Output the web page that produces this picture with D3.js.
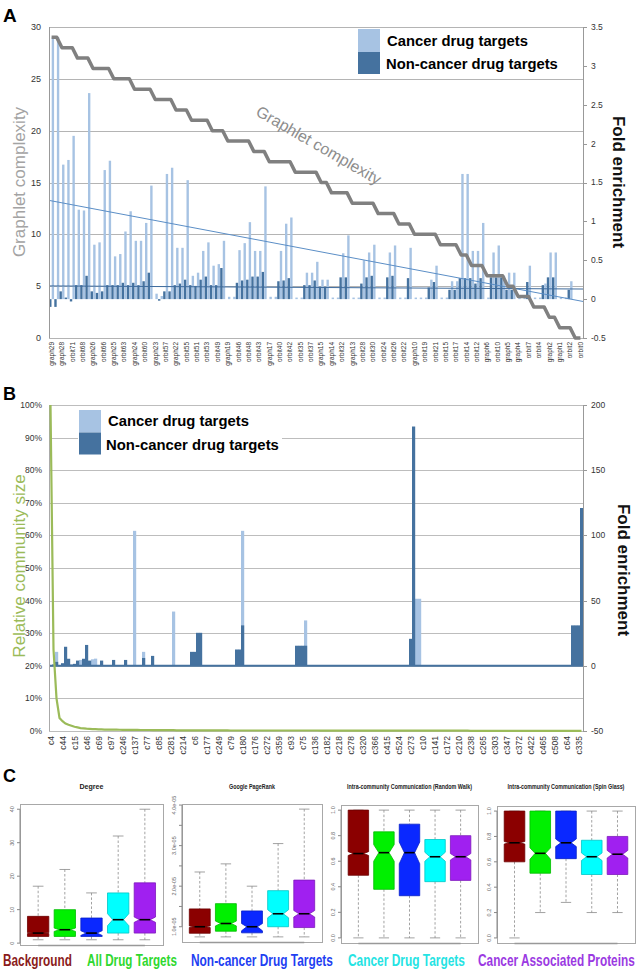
<!DOCTYPE html>
<html>
<head>
<meta charset="utf-8">
<script src="https://cdn.jsdelivr.net/npm/d3@7"></script>
<style>
  body { margin:0; background:#fff; }
  svg { display:block; font-family:"Liberation Sans", Arial, Helvetica, sans-serif; }
</style>
</head>
<body>
<svg id="fig" width="643" height="977"></svg>
<script>
// ---------- panel A: graphlets / orbits ----------
var aNames = ["graph29","orbit72","graph28","orbit70","orbit71","graph27","orbit68","orbit69","graph26","orbit65",
  "orbit66","orbit67","graph25","orbit62","orbit63","orbit64","graph24","orbit59","orbit60","orbit61",
  "graph23","orbit56","orbit57","orbit58","graph22","orbit54","orbit55","graph21","orbit51","orbit52",
  "orbit53","graph20","orbit49","orbit50","graph19","orbit45","orbit46","orbit47","orbit48","graph18",
  "orbit43","orbit44","graph17","orbit39","orbit40","orbit41","orbit42","graph16","orbit35","orbit36",
  "orbit37","orbit38","graph15","orbit34","graph14","orbit31","orbit32","orbit33","graph13","orbit27",
  "orbit28","orbit29","orbit30","graph12","orbit24","orbit25","orbit26","graph11","orbit22","orbit23",
  "graph10","orbit18","orbit19","orbit20","orbit21","graph9","orbit15","orbit16","orbit17","graph8",
  "orbit14","graph7","orbit12","orbit13","graph6","orbit9","orbit10","orbit11","graph5","orbit8",
  "graph4","orbit6","orbit7","graph3","orbit4","orbit5","graph2","orbit3","graph1","orbit1",
  "orbit2","graph0","orbit0"];
var aComplexity = [29,29,28,28,28,27,27,27,26,26, 26,26,25,25,25,25,24,24,24,24,
  23,23,23,23,22,22,22,21,21,21, 21,20,20,20,19,19,19,19,19,18,
  18,18,17,17,17,17,17,16,16,16, 16,16,15,15,14,14,14,14,13,13,
  13,13,13,12,12,12,12,11,11,11, 10,10,10,10,10,9,9,9,9,8,
  8,7,7,7,6,6,6,6,5,5, 4,4,4,3,3,3,2,2,1,1, 1,0,0];
var aCancer = [3.37,3.37,1.73,1.79,2.1,1.15,1.14,2.65,0.7,0.73,
  1.66,1.78,0.55,0.58,0.87,1.13,0.75,0.75,0.98,1.46,
  0.07,0.04,1.61,1.69,0.66,0.66,1.53,0.3,0.34,0.62,
  0.73,0.43,0.45,0.75,0.03,0.03,0.63,0.72,0.99,0.62,
  0.62,1.45,0.03,0.03,0.62,0.97,1.05,0.02,0.02,0.34,
  0.34,0.48,0.25,0.25,0.02,0.02,0.59,0.82,0.02,0.02,
  0.5,0.6,0.7,0.02,0.02,0.6,0.69,0.02,0.02,0.66,
  0.02,0.02,0.02,0.25,0.43,0.02,0.02,0.23,0.23,1.61,
  1.61,0.62,0.62,0.98,0.02,0.6,0.69,0.3,0.34,0.34,
  0.02,0.02,0.43,0.02,0.02,0.2,0.6,0.6,0.02,0.02,
  0.23,0,0];
var aNonCancer = [-0.1,-0.1,0.1,0.02,-0.03,0.18,0.18,0.3,0.1,0.08,
  0.1,0.18,0.18,0.18,0.21,0.18,0.21,0.18,0.23,0.34,
  0,-0.02,0.1,0.1,0.18,0.2,0.25,0.18,0.17,0.25,
  0.29,0.18,0.18,0.4,0,0,0.21,0.24,0.25,0.29,
  0.29,0.35,0,0,0.23,0.24,0.27,0,0,0.18,
  0.18,0.24,0.16,0.16,0,0,0.28,0.28,0,0,
  0.2,0.28,0.3,0,0,0.28,0.3,0,0,0.27,
  0,0,0,0.15,0.22,0,0,0.12,0.12,0.27,
  0.27,0.27,0.2,0.27,0,0.28,0.28,0.28,0.12,0.12,
  0,0,0.22,0,0,0.18,0.28,0.28,0,0,
  0.12,0,0];
var aCancerTrend = [1.27, -0.03];     // linear trend, first and last category
var aNonCancerTrend = [0.17, 0.13];
var aLeftTicks = [0, 5, 10, 15, 20, 25, 30];
var aRightTicks = [-0.5, 0, 0.5, 1, 1.5, 2, 2.5, 3, 3.5];

// ---------- panel B: communities ----------
var bLabels = ["c4","c44","c15","c46","c69","c97","c246","c137","c77","c85","c281","c214","c6","c177","c249",
  "c79","c180","c176","c272","c359","c93","c75","c136","c182","c218","c278","c320","c366","c415","c524",
  "c273","c10","c141","c172","c210","c238","c265","c303","c347","c372","c422","c465","c508","c64","c335"];
var bCount = 178;          // communities on the axis, every 4th one labelled
var bSize = [100,25,10,4,3,2.3,1.9,1.6,1.3,1.1,0.9,0.8,0.7,0.65,0.6,0.55,0.5,0.5,0.45,0.45,
  0.42,0.4,0.4,0.38,0.36,0.35,0.35,0.34,0.33,0.32,0.31,0.3,0.3,0.3,0.29,0.28,0.28,0.27,0.26,0.25,
  0.25,0.25,0.2,0.2,0.2,0.2,0.2,0.2,0.2,0.2,0.2,0.2,0.2,0.2,0.2,0.2,0.2,0.2,0.2,0.2,
  0.15,0.15,0.15,0.15,0.15,0.15,0.15,0.15,0.15,0.15,0.15,0.15,0.15,0.15,0.15,0.15,0.15,0.15,0.15,0.15,
  0.15,0.15,0.15,0.15,0.15,0.15,0.15,0.15,0.15,0.15,0.1,0.1,0.1,0.1,0.1,0.1,0.1,0.1,0.1,0.1,
  0.1,0.1,0.1,0.1,0.1,0.1,0.1,0.1,0.1,0.1,0.1,0.1,0.1,0.1,0.1,0.1,0.1,0.1,0.1,0.1,
  0.1,0.1,0.1,0.1,0.1,0.1,0.1,0.1,0.1,0.1,0.1,0.1,0.1,0.1,0.1,0.1,0.1,0.1,0.1,0.1,
  0.05,0.05,0.05,0.05,0.05,0.05,0.05,0.05,0.05,0.05,0.05,0.05,0.05,0.05,0.05,0.05,0.05,0.05,0.05,0.05,
  0.05,0.05,0.05,0.05,0.05,0.05,0.05,0.05,0.05,0.05,0.05,0.05,0.05,0.05,0.05,0.05,0.05,0.05];
// [community position, fold enrichment]; all others are 0
var bCancer = [[2,10.7],[10,4.5],[14,5],[15,5.5],[28,103.5],[31,10.7],[41,41.6],[64,103.5],
  [85,34.8],[122,51.4],[123,51.4]];
var bNonCancer = [[1,1],[2,3],[4,2],[5,14.6],[6,5.4],[7,1],[8,1.5],[9,4],[11,5.4],[12,16],[13,4],
  [17,4],[21,4.5],[25,4.5],[31,6],[34,7.6],[47,10.7],[48,10.7],[49,25.3],[50,25.3],[62,12.5],
  [63,12.5],[64,31],[82,15.4],[83,15.4],[84,15.4],[85,15.4],[120,20.7],[121,183.5],
  [174,31],[175,31],[176,31],[177,121]];
var bLeftTicks = [0, 10, 20, 30, 40, 50, 60, 70, 80, 90, 100];
var bRightTicks = [-50, 0, 50, 100, 150, 200];

// ---------- panel C: boxplots, rows are [low whisker, Q1, median, Q3, high whisker, notch low, notch high] ----------
var cGroups = ["Background", "All Drug Targets", "Non-cancer Drug Targets", "Cancer Drug Targets", "Cancer Associated Proteins"];
var degreeBox = [[1,2,3,8,17,2.85,3.15],[1,2,4,10,22,3.5,4.5],[1,2,3,7.5,15,2.3,3.7],
  [1,3,7,15,32,5.2,8.8],[1,3,7,18,40,6.2,7.8]];
var pagerankBox = [[0.75e-5,0.84e-5,1.0e-5,1.44e-5,2.35e-5,0.98e-5,1.02e-5],
  [0.75e-5,0.89e-5,1.08e-5,1.57e-5,2.55e-5,1.02e-5,1.14e-5],
  [0.75e-5,0.85e-5,1.0e-5,1.39e-5,2.0e-5,0.9e-5,1.08e-5],
  [0.75e-5,1.0e-5,1.32e-5,1.89e-5,3.05e-5,1.22e-5,1.42e-5],
  [0.75e-5,0.98e-5,1.32e-5,2.15e-5,3.9e-5,1.24e-5,1.4e-5]];
var randomWalkBox = [[0,0.49,0.66,1,1,0.645,0.675],[0,0.38,0.667,0.83,1,0.6,0.73],
  [0,0.33,0.667,0.89,1,0.58,0.75],[0,0.44,0.635,0.77,1,0.6,0.67],[0,0.45,0.635,0.8,1,0.61,0.66]];
var spinGlassBox = [[0,0.6,0.75,1,1,0.74,0.76],[0.2,0.51,0.667,1,1,0.62,0.71],
  [0.28,0.625,0.75,1,1,0.72,0.78],[0.2,0.5,0.64,0.77,1,0.61,0.67],[0.2,0.5,0.66,0.8,1,0.63,0.69]];

var LIGHT = "#a7c3e3", DARK = "#45729f";
var boxFill = ["#8b0000", "#00f000", "#0a28ff", "#00ffff", "#a020f0"];
var groupText = ["#8b1c1c", "#2fd82f", "#1f3ff2", "#25e3e3", "#9b3ae2"];

var svg = d3.select("#fig");
function crisp(v) { return Math.round(v) + 0.5; }
// squeeze a text horizontally to a given width (narrow typefaces are not installed)
function fitText(t, x, y, width) {
  var n = t.node().getComputedTextLength();
  t.attr("transform", "translate(" + x + "," + y + ") scale(" + (width / n) + ",1)");
  return t;
}

// =============== A ===============
var gA = svg.append("g");
var xA = d3.scaleBand().domain(d3.range(aNames.length)).range([49, 583]);
var sA = d3.scaleBand().domain(["non", "can"]).range([0, xA.bandwidth()]).paddingInner(0.08).paddingOuter(0.04);
var yAL = d3.scaleLinear().domain([0, 30]).range([338, 27]);
var yAR = d3.scaleLinear().domain([-0.5, 3.5]).range([338, 27]);

gA.selectAll(".grid").data(aLeftTicks).join("line")
  .attr("x1", 49).attr("x2", 583)
  .attr("y1", function(d) { return crisp(yAL(d)); }).attr("y2", function(d) { return crisp(yAL(d)); })
  .attr("stroke", "#b4b4b4");

function barsA(vals, key, color) {
  gA.append("g").selectAll("rect").data(vals).join("rect")
    .attr("x", function(d, i) { return xA(i) + sA(key); })
    .attr("width", sA.bandwidth())
    .attr("y", function(d) { return yAR(Math.max(d, 0)); })
    .attr("height", function(d) { return Math.abs(yAR(d) - yAR(0)); })
    .attr("fill", color);
}
barsA(aCancer, "can", LIGHT);
barsA(aNonCancer, "non", DARK);

// trend lines
gA.append("line").attr("x1", 49).attr("x2", 583)
  .attr("y1", yAR(aCancerTrend[0])).attr("y2", yAR(aCancerTrend[1]))
  .attr("stroke", "#5b8ec6").attr("stroke-width", 1);
gA.append("line").attr("x1", 49).attr("x2", 583)
  .attr("y1", yAR(aNonCancerTrend[0])).attr("y2", yAR(aNonCancerTrend[1]))
  .attr("stroke", "#3f6c9e").attr("stroke-width", 1);

// graphlet complexity
gA.append("path").datum(aComplexity)
  .attr("d", d3.line().x(function(d, i) { return xA(i) + xA.bandwidth() / 2; }).y(function(d) { return yAL(d); }))
  .attr("fill", "none").attr("stroke", "#808080").attr("stroke-width", 3.5).attr("stroke-linejoin", "round");
gA.append("text").attr("transform", "translate(316,150) rotate(30)")
  .attr("text-anchor", "middle").attr("font-size", 16).attr("fill", "#8d8d8d")
  .text("Graphlet complexity");

// axes
gA.append("line").attr("x1", crisp(49)).attr("x2", crisp(49)).attr("y1", 27).attr("y2", 338).attr("stroke", "#999");
gA.append("line").attr("x1", crisp(583)).attr("x2", crisp(583)).attr("y1", 27).attr("y2", 338).attr("stroke", "#999");
gA.selectAll(".lt").data(aLeftTicks).join("text")
  .attr("x", 41).attr("y", function(d) { return yAL(d); }).attr("dy", "0.35em")
  .attr("text-anchor", "end").attr("font-size", 9).attr("fill", "#333").text(function(d) { return d; });
gA.selectAll(".rtk").data(aRightTicks).join("line")
  .attr("x1", 583).attr("x2", 587)
  .attr("y1", function(d) { return crisp(yAR(d)); }).attr("y2", function(d) { return crisp(yAR(d)); })
  .attr("stroke", "#999");
gA.selectAll(".rt").data(aRightTicks).join("text")
  .attr("x", 591).attr("y", function(d) { return yAR(d); }).attr("dy", "0.35em")
  .attr("font-size", 8.5).attr("fill", "#333").text(function(d) { return d; });
gA.selectAll(".xl").data(d3.range(0, aNames.length, 2)).join("text")
  .attr("transform", function(i) { return "translate(" + (xA(i) + xA.bandwidth() / 2 + 2.3) + ",342) rotate(-90)"; })
  .attr("text-anchor", "end").attr("font-size", 6.5).attr("fill", "#333")
  .text(function(i) { return aNames[i]; });

gA.append("text").attr("transform", "translate(25,182) rotate(-90)").attr("text-anchor", "middle")
  .attr("font-size", 17).attr("fill", "#a3a3a3").text("Graphlet complexity");
gA.append("text").attr("transform", "translate(613,182) rotate(90)").attr("text-anchor", "middle")
  .attr("font-size", 17).attr("font-weight", "bold").attr("fill", "#111").text("Fold enrichment");

// legend A
gA.append("rect").attr("x", 358).attr("y", 29).attr("width", 22).attr("height", 23).attr("fill", LIGHT);
gA.append("rect").attr("x", 358).attr("y", 52).attr("width", 22).attr("height", 22).attr("fill", DARK);
fitText(gA.append("text").attr("font-size", 15).attr("font-weight", "bold").text("Cancer drug targets"), 387, 46, 141);
fitText(gA.append("text").attr("font-size", 15).attr("font-weight", "bold").text("Non-cancer drug targets"), 386, 69, 172);
svg.append("text").attr("x", 3).attr("y", 22).attr("font-size", 19).attr("font-weight", "bold").text("A");

// =============== B ===============
var gB = svg.append("g");
var xB = d3.scaleBand().domain(d3.range(bCount)).range([49, 583]);
var yBL = d3.scaleLinear().domain([0, 100]).range([731, 405]);
var yBR = d3.scaleLinear().domain([-50, 200]).range([731, 405]);

gB.selectAll(".grid").data(bLeftTicks).join("line")
  .attr("x1", 49).attr("x2", 583)
  .attr("y1", function(d) { return crisp(yBL(d)); }).attr("y2", function(d) { return crisp(yBL(d)); })
  .attr("stroke", "#bdbdbd");

// both series overlap fully in each community slot, non-cancer in front
function barsB(pairs, color) {
  gB.append("g").selectAll("rect").data(pairs).join("rect")
    .attr("x", function(d) { return xB(d[0]); })
    .attr("width", xB.bandwidth() + 0.2)
    .attr("y", function(d) { return yBR(Math.max(d[1], 0)); })
    .attr("height", function(d) { return Math.abs(yBR(d[1]) - yBR(0)); })
    .attr("fill", color);
}
barsB(bCancer, LIGHT);
barsB(bNonCancer, DARK);
gB.append("line").attr("x1", 49).attr("x2", 583).attr("y1", yBR(0)).attr("y2", yBR(0))
  .attr("stroke", DARK).attr("stroke-width", 2);

gB.append("line").attr("x1", crisp(49)).attr("x2", crisp(49)).attr("y1", 405).attr("y2", 731).attr("stroke", "#aaa");
gB.append("line").attr("x1", crisp(583)).attr("x2", crisp(583)).attr("y1", 405).attr("y2", 731).attr("stroke", "#999");
gB.append("path").datum(bSize)
  .attr("d", d3.line().x(function(d, i) { return xB(i) + xB.bandwidth() / 2; }).y(function(d) { return yBL(d); }))
  .attr("fill", "none").attr("stroke", "#9bbb59").attr("stroke-width", 2.2);

gB.selectAll(".lt").data(bLeftTicks).join("text")
  .attr("x", 42).attr("y", function(d) { return yBL(d); }).attr("dy", "0.35em")
  .attr("text-anchor", "end").attr("font-size", 8.5).attr("fill", "#333").text(function(d) { return d + "%"; });
gB.selectAll(".rtk").data(bRightTicks).join("line")
  .attr("x1", 583).attr("x2", 587)
  .attr("y1", function(d) { return crisp(yBR(d)); }).attr("y2", function(d) { return crisp(yBR(d)); })
  .attr("stroke", "#999");
gB.selectAll(".rt").data(bRightTicks).join("text")
  .attr("x", 591).attr("y", function(d) { return yBR(d); }).attr("dy", "0.35em")
  .attr("font-size", 8.5).attr("fill", "#333").text(function(d) { return d; });
gB.selectAll(".xl").data(bLabels).join("text")
  .attr("transform", function(d, k) { return "translate(" + (xB(k * 4) + xB.bandwidth() / 2 + 3) + ",736) rotate(-90)"; })
  .attr("text-anchor", "end").attr("font-size", 8.5).attr("fill", "#333").text(function(d) { return d; });

gB.append("text").attr("transform", "translate(25,566) rotate(-90)").attr("text-anchor", "middle")
  .attr("font-size", 17).attr("fill", "#9bbb59").text("Relative community size");
gB.append("text").attr("transform", "translate(618,570) rotate(90)").attr("text-anchor", "middle")
  .attr("font-size", 17).attr("font-weight", "bold").attr("fill", "#111").text("Fold enrichment");

gB.append("rect").attr("x", 78).attr("y", 408).attr("width", 204).attr("height", 48).attr("fill", "#fff");
gB.append("rect").attr("x", 79).attr("y", 410).attr("width", 22).attr("height", 22.5).attr("fill", LIGHT);
gB.append("rect").attr("x", 79).attr("y", 432.5).attr("width", 22).attr("height", 22).attr("fill", DARK);
fitText(gB.append("text").attr("font-size", 15).attr("font-weight", "bold").text("Cancer drug targets"), 108, 426, 141);
fitText(gB.append("text").attr("font-size", 15).attr("font-weight", "bold").text("Non-cancer drug targets"), 106, 450, 173);
svg.append("text").attr("x", 3).attr("y", 400).attr("font-size", 18).attr("font-weight", "bold").text("B");

// =============== C ===============
svg.append("text").attr("x", 3).attr("y", 782).attr("font-size", 18).attr("font-weight", "bold").text("C");

function sci(d) { return d.toExponential(1).replace(/e([+-])(\d)$/, "e$10$2"); }

function boxPanel(p) {
  var g = svg.append("g");
  var x = d3.scaleLinear().domain([0.32, 5.68]).range([p.x0, p.x1]);
  var y = d3.scaleLinear().domain(p.dom).range([p.y1, p.y0]);
  g.append("rect").attr("x", crisp(p.x0)).attr("y", crisp(p.y0))
    .attr("width", Math.round(p.x1 - p.x0)).attr("height", Math.round(p.y1 - p.y0))
    .attr("fill", "none").attr("stroke", "#a8a8a8");
  fitText(g.append("text").attr("text-anchor", "middle").attr("font-size", 6.5).attr("font-weight", "bold")
    .attr("fill", "#222").text(p.title), (p.x0 + p.x1) / 2, 789, p.titleLen);
  // y axis
  g.append("line").attr("x1", p.x0).attr("x2", p.x0)
    .attr("y1", y(p.ticks[0])).attr("y2", y(p.ticks[p.ticks.length - 1])).attr("stroke", "#888");
  g.selectAll(".tk").data(p.ticks).join("line")
    .attr("x1", p.x0 - 3).attr("x2", p.x0).attr("y1", function(d) { return y(d); }).attr("y2", function(d) { return y(d); })
    .attr("stroke", "#888");
  g.selectAll(".tl").data(p.labels).join("text")
    .attr("transform", function(d) { return "translate(" + (p.x0 - 6) + "," + y(d) + ") rotate(-90)"; })
    .attr("text-anchor", "middle").attr("font-size", 5.5).attr("fill", "#666").text(p.fmt);
  // x axis line
  g.append("line").attr("x1", x(1)).attr("x2", x(5)).attr("y1", p.y1 + 0.5).attr("y2", p.y1 + 0.5)
    .attr("stroke", "#999").attr("stroke-width", 1.6);

  p.data.forEach(function(b, i) {
    var cx = x(i + 1), w = x(1.4) - x(1), cap = x(1.2) - x(1);
    var gb = g.append("g");
    [[b[4], b[3]], [b[1], b[0]]].forEach(function(s) {
      gb.append("line").attr("x1", cx).attr("x2", cx).attr("y1", y(s[0])).attr("y2", y(s[1]))
        .attr("stroke", "#8a8a8a").attr("stroke-width", 0.8).attr("stroke-dasharray", "2.5,2");
    });
    [b[0], b[4]].forEach(function(v) {
      gb.append("line").attr("x1", cx - cap).attr("x2", cx + cap).attr("y1", y(v)).attr("y2", y(v))
        .attr("stroke", "#8a8a8a").attr("stroke-width", 0.8);
    });
    var pts = [[cx - w, b[1]], [cx - w, b[5]], [cx - w / 2, b[2]], [cx - w, b[6]], [cx - w, b[3]],
      [cx + w, b[3]], [cx + w, b[6]], [cx + w / 2, b[2]], [cx + w, b[5]], [cx + w, b[1]]];
    gb.append("polygon")
      .attr("points", pts.map(function(q) { return q[0] + "," + y(q[1]); }).join(" "))
      .attr("fill", boxFill[i]).attr("stroke", d3.color(boxFill[i]).darker(0.7)).attr("stroke-width", 0.8);
    gb.append("line").attr("x1", cx - w / 2).attr("x2", cx + w / 2).attr("y1", y(b[2])).attr("y2", y(b[2]))
      .attr("stroke", "#000").attr("stroke-width", 1.6);
  });
}

boxPanel({ title: "Degree", titleLen: 24, x0: 20, x1: 163, y0: 804, y1: 945, dom: [-0.56, 41.56],
  data: degreeBox, ticks: [0, 10, 20, 30, 40], labels: [0, 10, 20, 30, 40], fmt: function(d) { return d; } });
boxPanel({ title: "Google PageRank", titleLen: 46, x0: 182, x1: 322, y0: 804, y1: 942, dom: [0.624e-5, 4.026e-5],
  data: pagerankBox, ticks: [1e-5, 1.5e-5, 2e-5, 2.5e-5, 3e-5, 3.5e-5, 4e-5], labels: [1e-5, 2e-5, 3e-5, 4e-5], fmt: sci });
boxPanel({ title: "Intra-community Communication (Random Walk)", titleLen: 125, x0: 341, x1: 478, y0: 805, y1: 943,
  dom: [-0.04, 1.04], data: randomWalkBox, ticks: [0, 0.2, 0.4, 0.6, 0.8, 1], labels: [0, 0.2, 0.4, 0.6, 0.8, 1],
  fmt: function(d) { return d.toFixed(1); } });
boxPanel({ title: "Intra-community Communication (Spin Glass)", titleLen: 117, x0: 497, x1: 635, y0: 806, y1: 943,
  dom: [-0.04, 1.04], data: spinGlassBox, ticks: [0, 0.2, 0.4, 0.6, 0.8, 1], labels: [0, 0.2, 0.4, 0.6, 0.8, 1],
  fmt: function(d) { return d.toFixed(1); } });

// group legend
var legX = [3, 87, 191, 348, 478], legW = [69, 90, 142, 117, 157];
cGroups.forEach(function(name, i) {
  fitText(svg.append("text").attr("font-size", 16).attr("font-weight", "bold")
    .attr("fill", groupText[i]).text(name), legX[i], 966, legW[i]);
});
</script>
</body>
</html>
